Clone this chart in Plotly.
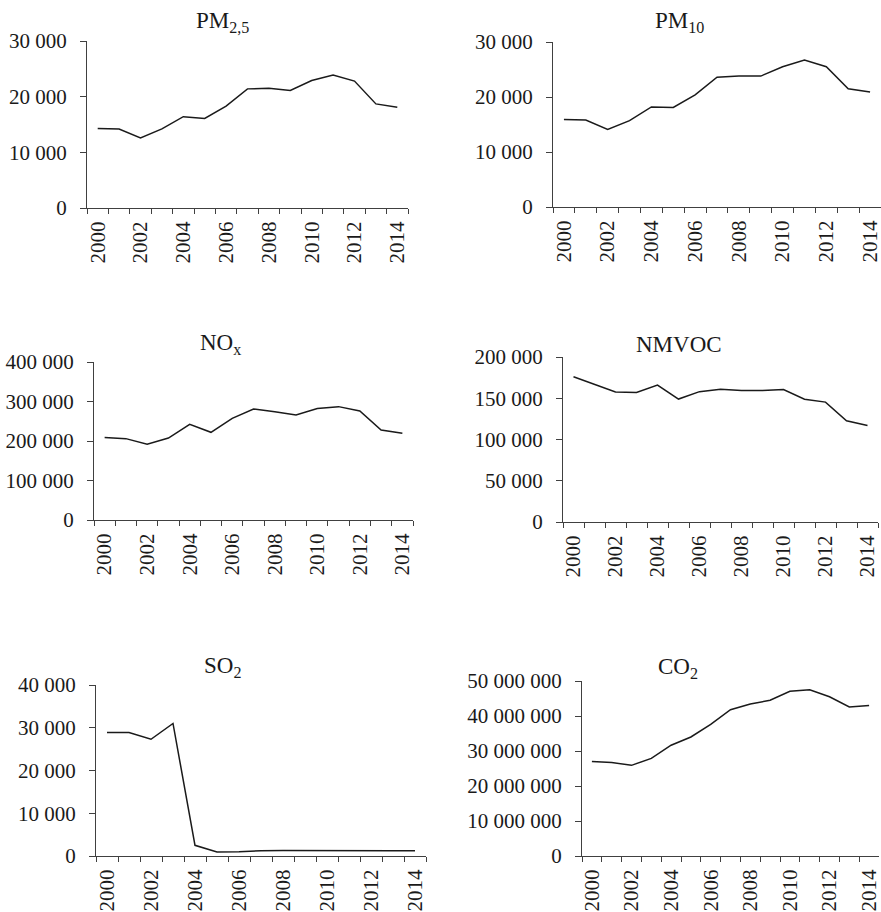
import plotly.graph_objects as go

W, H = 881, 912

years = [str(y) for y in range(2000, 2015)]
year_labels = [y if int(y) % 2 == 0 else "" for y in years]

pm25 = [14300, 14200, 12600, 14200, 16400, 16100, 18300, 21400, 21500, 21100, 22900, 23900, 22800, 18700, 18100]
pm10 = [15900, 15800, 14100, 15700, 18200, 18100, 20400, 23600, 23800, 23800, 25500, 26700, 25500, 21500, 20900]
nox = [209000, 206000, 192000, 207500, 242000, 222000, 257500, 281000, 274000, 266000, 282000, 287000, 276000, 228000, 219500]
nmvoc = [176000, 167000, 157700, 157000, 166000, 149000, 158000, 161000, 159400, 159400, 160600, 148800, 145300, 122700, 117000]
so2 = [28900, 28900, 27300, 31000, 2500, 930, 1000, 1250, 1300, 1300, 1400, 1400, 1300, 1250, 1200]
co2 = [27000000, 26700000, 25900000, 27900000, 31650000, 34000000, 37600000, 41800000, 43400000, 44500000, 47050000, 47500000, 45500000, 42600000, 43000000]

titles = ["PM<sub>2,5</sub>", "PM<sub>10</sub>", "NO<sub>x</sub>", "NMVOC", "SO<sub>2</sub>", "CO<sub>2</sub>"]
series = [pm25, pm10, nox, nmvoc, so2, co2]
y_ticks = [
    [0, 10000, 20000, 30000],
    [0, 10000, 20000, 30000],
    [0, 100000, 200000, 300000, 400000],
    [0, 50000, 100000, 150000, 200000],
    [0, 10000, 20000, 30000, 40000],
    [0, 10000000, 20000000, 30000000, 40000000, 50000000],
]


def fmt(v):
    return f"{v:,}".replace(",", " ")


# plot boxes in pixels: (left, right, top, bottom)
boxes = [
    (87, 408, 41, 208),
    (553, 881, 42, 207),
    (94, 413, 362, 520),
    (563, 878, 357, 522),
    (96, 426, 685, 856),
    (582, 879, 681, 856),
]
# title centre (x px, y px middle)
title_pos = [(222, 22), (679, 22), (220, 344), (679, 344), (222, 667), (678, 668)]

FONT = "Liberation Serif, Times New Roman, serif"
TXT = "#1a1a1a"
AX = "#404040"

fig = go.Figure()
layout = dict(
    width=W, height=H,
    margin=dict(l=0, r=0, t=0, b=0, autoexpand=False),
    paper_bgcolor="white", plot_bgcolor="white",
    showlegend=False,
    font=dict(family=FONT, size=21, color=TXT),
    annotations=[],
)

for i, (vals, box, ticks) in enumerate(zip(series, boxes, y_ticks)):
    n = i + 1
    xa = "x" if n == 1 else f"x{n}"
    ya = "y" if n == 1 else f"y{n}"
    fig.add_trace(go.Scatter(
        x=years, y=vals, mode="lines",
        line=dict(color="#1a1a1a", width=1.5),
        xaxis=xa, yaxis=ya, hoverinfo="skip",
    ))
    l, r, t, b = box
    xkey = "xaxis" if n == 1 else f"xaxis{n}"
    ykey = "yaxis" if n == 1 else f"yaxis{n}"
    layout[xkey] = dict(
        domain=[l / W, r / W], anchor=ya, type="category",
        range=[-0.5, 14.5], automargin=False,
        tickmode="array", tickvals=years, ticktext=year_labels,
        tickson="boundaries", ticks="outside", ticklen=5, tickcolor=AX, tickwidth=1,
        tickangle=-90, showline=True, linecolor=AX, linewidth=1,
        showgrid=False, zeroline=False, ticklabelstandoff=4,
        tickfont=dict(family=FONT, size=21, color=TXT),
    )
    layout[ykey] = dict(
        domain=[1 - b / H, 1 - t / H], anchor=xa,
        range=[0, ticks[-1]], automargin=False,
        tickmode="array", tickvals=ticks, ticktext=[fmt(v) for v in ticks],
        ticks="outside", ticklen=6, tickcolor=AX, tickwidth=1,
        showline=True, linecolor=AX, linewidth=1,
        showgrid=False, zeroline=False, ticklabelstandoff=9,
        tickfont=dict(family=FONT, size=21, color=TXT),
    )
    tx, ty = title_pos[i]
    layout["annotations"].append(dict(
        text=titles[i], x=tx / W, y=1 - ty / H, xref="paper", yref="paper",
        xanchor="center", yanchor="middle", showarrow=False,
        font=dict(family=FONT, size=23, color=TXT),
    ))

fig.update_layout(**layout)
fig.write_html(
    "out.html",
    config={"displayModeBar": False, "staticPlot": True},
    post_script="document.body.style.margin='0';document.body.style.overflow='hidden';",
)
